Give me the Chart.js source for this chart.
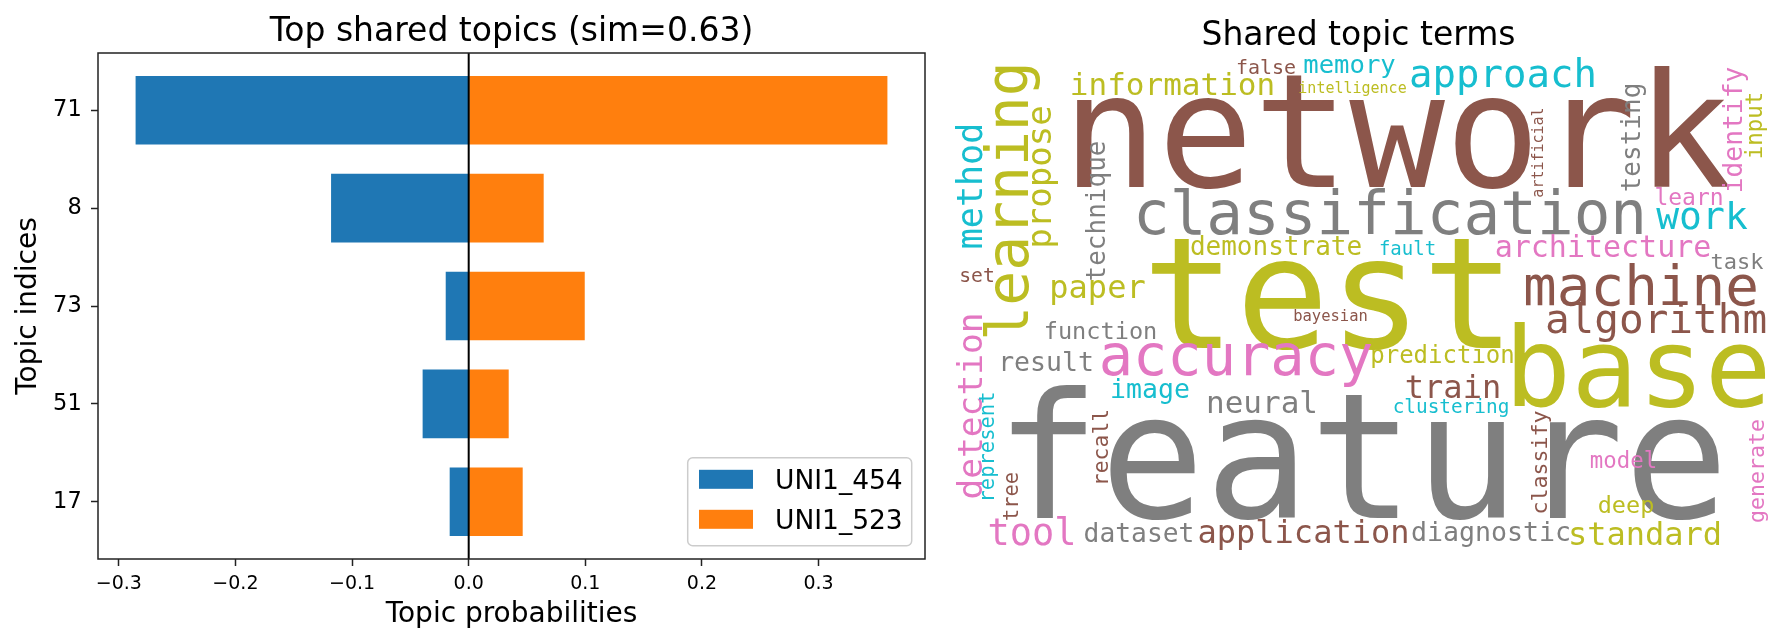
<!DOCTYPE html>
<html>
<head>
<meta charset="utf-8">
<title>Top shared topics</title>
<script src="https://cdn.jsdelivr.net/npm/chart.js@4.4.1/dist/chart.umd.min.js"></script>
<style>
  html, body { margin: 0; padding: 0; background: #fff; }
  #wrap { position: relative; width: 1787px; height: 635px; }
  #barCanvas { position: absolute; left: 0; top: 0; }
  #cloudCanvas { position: absolute; left: 930px; top: 0; }
</style>
</head>
<body>
<div id="wrap">
  <canvas id="barCanvas" width="940" height="635"></canvas>
  <canvas id="cloudCanvas" width="857" height="635"></canvas>
</div>
<script>
// Topic probabilities per document
const topicLabels = ['71', '8', '73', '51', '17'];
const uni454 = [-0.2856, -0.118, -0.0197, -0.0395, -0.0163];
const uni523 = [0.359, 0.0643, 0.0995, 0.0343, 0.0463];
const probTicks = [-0.3, -0.2, -0.1, 0.0, 0.1, 0.2, 0.3];
const seriesNames = ['UNI1_454', 'UNI1_523'];

// Shared terms (word cloud layout, in cloud units 0..843 x 0..506)
const words = ['network', 'classification', 'test', 'feature', 'base', 'learning', 'machine', 'accuracy',
  'algorithm', 'approach', 'work', 'tool', 'neural', 'method', 'detection', 'propose', 'paper', 'train',
  'application', 'standard', 'information', 'architecture', 'diagnostic', 'result', 'image', 'identify',
  'dataset', 'demonstrate', 'technique', 'testing', 'memory', 'prediction', 'function', 'deep', 'learn',
  'model', 'input', 'task', 'classify', 'generate', 'recall', 'represent', 'tree', 'false', 'set',
  'clustering', 'fault', 'bayesian', 'intelligence', 'artificial'];
const wordX = [460, 453, 392, 425, 701, 91, 704, 299,
  719, 566, 765, 95, 325, 45, 45, 114, 160.5, 516,
  366.5, 708, 235.5, 666, 554, 109, 213, 805,
  202, 339, 168, 703, 412.5, 505.5, 163.5, 689, 752,
  686.5, 825, 800, 610, 827, 171, 57, 81, 329, 40,
  514, 470.5, 393.5, 415.5, 606];
const wordY = [134, 181, 295, 465, 353, 148, 252, 322,
  280, 34, 176, 492, 360, 133, 353, 124, 245, 345,
  490, 492, 42, 204, 488, 318, 345, 77,
  489, 202, 158, 84.5, 20, 310, 286, 460, 152,
  415, 72.5, 216, 409.5, 418, 394.5, 394, 443.5, 21, 229,
  360, 202, 268, 40, 99.5];
const wordSize = [159, 61, 155, 174, 111, 58, 56, 57,
  41, 39, 38, 37, 31, 35, 34.5, 34, 32, 32,
  32, 32, 31, 30, 26.6, 26.5, 26.5, 26.3,
  26.3, 26, 26, 26, 25.6, 24, 23.6, 23.5, 23,
  22.4, 22.4, 22, 21.6, 21.6, 21.4, 20.5, 20.4, 20, 19.7,
  19.4, 19, 15.5, 15, 15];
const wordVertical = [0, 0, 0, 0, 0, 1, 0, 0,
  0, 0, 0, 0, 0, 1, 1, 1, 0, 0,
  0, 0, 0, 0, 0, 0, 0, 1,
  0, 0, 1, 1, 0, 0, 0, 0, 0,
  0, 1, 0, 1, 1, 1, 1, 1, 0, 0,
  0, 0, 0, 0, 1];

// colours
const palette = { brown: '#8c564b', olive: '#bcbd22', gray: '#7f7f7f', cyan: '#17becf', pink: '#e377c2' };
const wordColors = ['brown', 'gray', 'olive', 'gray', 'olive', 'olive', 'brown', 'pink',
  'brown', 'cyan', 'cyan', 'pink', 'gray', 'cyan', 'pink', 'olive', 'olive', 'brown',
  'brown', 'olive', 'olive', 'pink', 'gray', 'gray', 'cyan', 'pink',
  'gray', 'olive', 'gray', 'gray', 'cyan', 'olive', 'gray', 'olive', 'pink',
  'pink', 'olive', 'gray', 'brown', 'pink', 'brown', 'cyan', 'brown', 'brown', 'brown',
  'cyan', 'cyan', 'brown', 'olive', 'brown'];
const seriesColors = ['#1f77b4', '#ff7f0e'];

Chart.defaults.font.family = '"DejaVu Sans", sans-serif';
Chart.defaults.color = '#000';

// matplotlib-like auto margins
const barHeight = 0.7;
const xLo = Math.min(...uni454), xHi = Math.max(...uni523);
const xPad = (xHi - xLo) * 0.05;
const yLo = -barHeight / 2, yHi = topicLabels.length - 1 + barHeight / 2;
const yPad = (yHi - yLo) * 0.05;

function fmtTick(v) {
    const s = Math.abs(v).toFixed(1);
    return v < -1e-9 ? '\u2212' + s : s;
}

// zero line, frame, title and legend
const barDecor = {
    id: 'barDecor',
    afterDatasetsDraw(chart) {
        const { ctx, chartArea: a, scales: { x } } = chart;
        ctx.save();
        const x0 = x.getPixelForValue(0);
        ctx.strokeStyle = '#000';
        ctx.lineWidth = 2;
        ctx.beginPath();
        ctx.moveTo(x0, a.top);
        ctx.lineTo(x0, a.bottom);
        ctx.stroke();

        ctx.strokeStyle = '#222';
        ctx.lineWidth = 1.5;
        ctx.strokeRect(a.left, a.top, a.right - a.left, a.bottom - a.top);

        ctx.fillStyle = '#000';
        ctx.font = '33px "DejaVu Sans"';
        ctx.textAlign = 'center';
        ctx.textBaseline = 'alphabetic';
        ctx.fillText('Top shared topics (sim=0.63)', (a.left + a.right) / 2, 41);

        // legend, lower right
        const w = 224, h = 88;
        const bx = a.right - 13.3 - w, by = a.bottom - 13.3 - h;
        ctx.beginPath();
        ctx.roundRect(bx, by, w, h, 5);
        ctx.fillStyle = 'rgba(255,255,255,0.8)';
        ctx.fill();
        ctx.strokeStyle = '#cccccc';
        ctx.lineWidth = 1.5;
        ctx.stroke();
        ctx.font = '26.5px "DejaVu Sans"';
        ctx.textAlign = 'left';
        chart.data.datasets.forEach((ds, i) => {
            const cy = by + 21.6 + i * 40;
            ctx.fillStyle = ds.backgroundColor;
            ctx.fillRect(bx + 11.3, cy - 9.5, 54, 19);
            ctx.fillStyle = '#000';
            ctx.fillText(ds.label, bx + 87.3, cy + 9.7);
        });
        ctx.restore();
    }
};

new Chart(document.getElementById('barCanvas'), {
    type: 'bar',
    data: {
        datasets: [
            {
                label: seriesNames[0],
                data: uni454.map((v, i) => ({ x: v, y: i })),
                backgroundColor: seriesColors[0]
            },
            {
                label: seriesNames[1],
                data: uni523.map((v, i) => ({ x: v, y: i })),
                backgroundColor: seriesColors[1]
            }
        ]
    },
    options: {
        indexAxis: 'y',
        responsive: false,
        animation: false,
        devicePixelRatio: 1,
        categoryPercentage: 1,
        barPercentage: barHeight,
        borderWidth: 0,
        layout: { padding: { left: 0, right: 15, top: 53, bottom: 0 } },
        scales: {
            x: {
                type: 'linear',
                stacked: true,
                bounds: 'data',
                min: xLo - xPad,
                max: xHi + xPad,
                afterBuildTicks: s => { s.ticks = probTicks.map(v => ({ value: v })); },
                afterFit: s => { s.height = 76; },
                ticks: { callback: v => fmtTick(v), font: { size: 19 }, color: '#000', padding: 6.9, autoSkip: false, maxRotation: 0 },
                grid: { drawOnChartArea: false, tickLength: 7, tickColor: '#222', tickWidth: 1.5 },
                border: { display: false },
                title: { display: true, text: 'Topic probabilities', font: { size: 28 }, color: '#000', padding: { top: 0, bottom: 3.5 } }
            },
            y: {
                type: 'linear',
                stacked: true,
                reverse: true,
                offset: false,
                bounds: 'data',
                min: yLo - yPad,
                max: yHi + yPad,
                afterBuildTicks: s => { s.ticks = topicLabels.map((_, i) => ({ value: i })); },
                afterFit: s => { s.width = 98; },
                ticks: { callback: v => topicLabels[v], font: { size: 22.5 }, color: '#000', padding: 9.3, autoSkip: false },
                grid: { offset: false, drawOnChartArea: false, tickLength: 7, tickColor: '#222', tickWidth: 1.5 },
                border: { display: false },
                title: { display: true, text: 'Topic indices', font: { size: 28 }, color: '#000', padding: { top: 11.7, bottom: 0 } }
            }
        },
        plugins: {
            legend: { display: false },
            tooltip: { enabled: false }
        }
    },
    plugins: [barDecor]
});

// draws each term at its point, through the cloud scales
const cloudText = {
    id: 'cloudText',
    afterDatasetsDraw(chart) {
        const { ctx, chartArea: a, scales: { x } } = chart;
        const k = x.getPixelForValue(1) - x.getPixelForValue(0);
        const meta = chart.getDatasetMeta(0);
        ctx.save();
        meta.data.forEach((pt, i) => {
            ctx.save();
            ctx.translate(pt.x, pt.y);
            if (wordVertical[i]) ctx.rotate(-Math.PI / 2);
            ctx.font = (wordSize[i] * k) + 'px "DejaVu Sans Mono"';
            ctx.fillStyle = palette[wordColors[i]];
            ctx.textAlign = 'center';
            ctx.textBaseline = 'alphabetic';
            ctx.fillText(words[i], 0, 0);
            ctx.restore();
        });
        ctx.fillStyle = '#000';
        ctx.font = '33px "DejaVu Sans"';
        ctx.textAlign = 'center';
        ctx.fillText('Shared topic terms', (a.left + a.right) / 2, 45);
        ctx.restore();
    }
};

new Chart(document.getElementById('cloudCanvas'), {
    type: 'scatter',
    data: {
        datasets: [{
            data: words.map((w, i) => ({ x: wordX[i], y: wordY[i] })),
            pointRadius: 0,
            pointHoverRadius: 0
        }]
    },
    options: {
        responsive: false,
        animation: false,
        devicePixelRatio: 1,
        layout: { padding: { left: 7, right: 7, top: 53, bottom: 76 } },
        scales: {
            x: { type: 'linear', display: false, min: 0, max: 843 },
            y: { type: 'linear', display: false, min: 0, max: 506, reverse: true }
        },
        plugins: {
            legend: { display: false },
            tooltip: { enabled: false }
        }
    },
    plugins: [cloudText]
});
</script>
</body>
</html>
